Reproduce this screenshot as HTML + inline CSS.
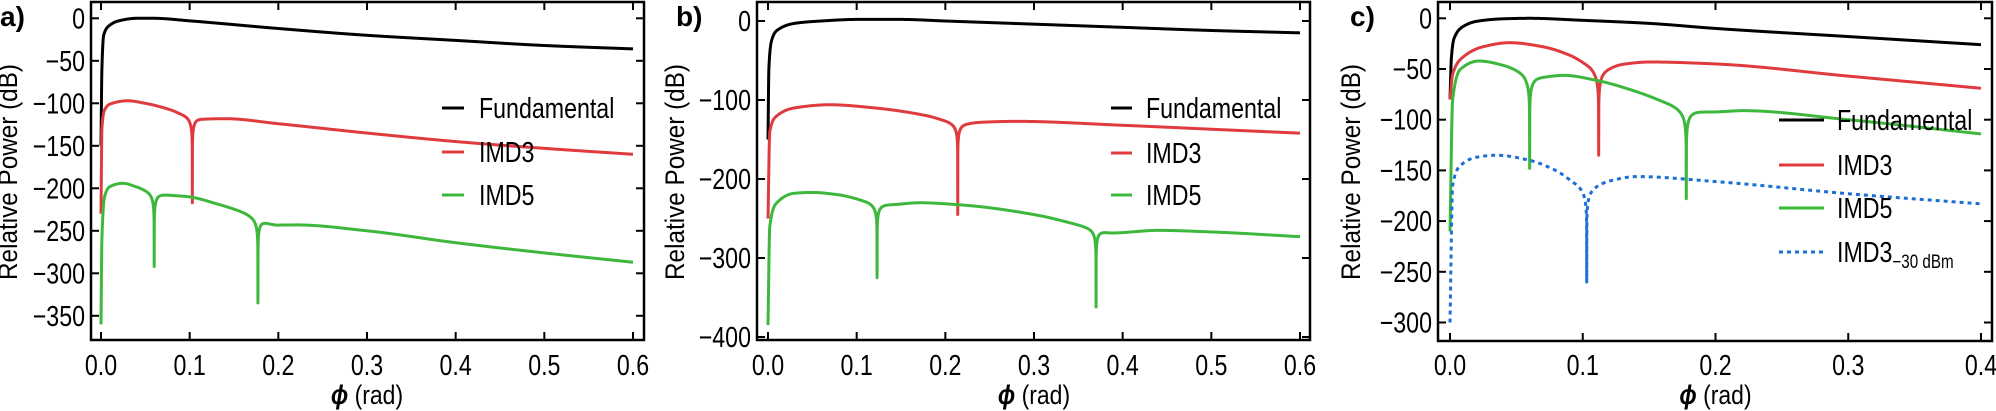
<!DOCTYPE html>
<html><head><meta charset="utf-8"><style>
html,body{margin:0;padding:0;background:#fff;}
svg{display:block;}
text{font-family:"Liberation Sans",sans-serif;}
</style></head><body>
<svg id="s" width="1996" height="411" xmlns="http://www.w3.org/2000/svg"></svg>
<script>
const NS="http://www.w3.org/2000/svg";
const svg=document.getElementById('s');
function el(t,a,txt){const e=document.createElementNS(NS,t);for(const k in a)e.setAttribute(k,a[k]);if(txt!==undefined)e.textContent=txt;svg.appendChild(e);return e;}
function mono(pts){
  const n=pts.length,xs=pts.map(p=>p[0]),ys=pts.map(p=>p[1]);
  const d=[],m=new Array(n);
  for(let i=0;i<n-1;i++)d.push((ys[i+1]-ys[i])/(xs[i+1]-xs[i]));
  m[0]=d[0];m[n-1]=d[n-2];
  for(let i=1;i<n-1;i++){ if(d[i-1]*d[i]<=0)m[i]=0; else{const w1=2*(xs[i+1]-xs[i])+(xs[i]-xs[i-1]),w2=(xs[i+1]-xs[i])+2*(xs[i]-xs[i-1]);m[i]=(w1+w2)/(w1/d[i-1]+w2/d[i]);}}
  return function(x){
    if(x<=xs[0])return ys[0]; if(x>=xs[n-1])return ys[n-1];
    let i=0;while(x>xs[i+1])i++;
    const h=xs[i+1]-xs[i],t=(x-xs[i])/h,t2=t*t,t3=t2*t;
    return (2*t3-3*t2+1)*ys[i]+(t3-2*t2+t)*h*m[i]+(-2*t3+3*t2)*ys[i+1]+(t3-t2)*h*m[i+1];
  };
}
function curve(P,pts,notches,xmax){
  const f=mono(pts);
  const xs=[];const N=3000;
  for(let i=0;i<=N;i++)xs.push(xmax*i/N);
  for(let i=1;i<80;i++)xs.push(0.004*i/80);
  notches.forEach(n=>{xs.push(n[0]);for(let k=1;k<40;k++){xs.push(n[0]-0.004*k/40);xs.push(n[0]+0.004*k/40);}});
  xs.sort((a,b)=>a-b);
  let d="";
  xs.forEach(x=>{
    if(x<0||x>xmax)return;
    let y=f(x);
    notches.forEach(n=>{const dx=x-n[0];const w=0.006;
      if(Math.abs(dx)<1e-9){y=n[1];}
      else{y+=20*Math.log10(Math.abs(dx)/Math.sqrt(dx*dx+w*w));}
      if(Math.abs(dx)<0.02)y=Math.max(y,n[1]);});
    d+=(d?"L":"M")+P.px(x).toFixed(2)+","+P.py(y).toFixed(2);
  });
  return d;
}
function sx(X,s){return `translate(${X},0) scale(${s},1) translate(${-X},0)`;}
function panel(c){
  const P={px:x=>c.x0+(x/c.xmax)*(c.x1-c.x0),py:y=>c.y0+(-y)*c.dbpx};
  c.series.forEach(s=>{
    const a={d:curve(P,s.pts,s.notches,c.xmax),fill:"none",stroke:s.col,"stroke-width":3,"stroke-linejoin":"round"};
    if(s.dash)a["stroke-dasharray"]="4,4";
    el("path",a);
  });
  el("rect",{x:c.fl,y:2,width:c.fr-c.fl,height:c.fb-2,fill:"none",stroke:"#000","stroke-width":2.5});
  c.xt.forEach(v=>{const X=P.px(v);
    el("line",{x1:X,y1:c.fb,x2:X,y2:c.fb-8,stroke:"#000","stroke-width":2});
    el("line",{x1:X,y1:2,x2:X,y2:10,stroke:"#000","stroke-width":2});
    el("text",{x:X,y:375,"font-size":29,"text-anchor":"middle",transform:sx(X,0.8)},v.toFixed(1));
  });
  c.yt.forEach(v=>{const Y=P.py(v);
    el("line",{x1:c.fl,y1:Y,x2:c.fl+8,y2:Y,stroke:"#000","stroke-width":2});
    el("line",{x1:c.fr,y1:Y,x2:c.fr-8,y2:Y,stroke:"#000","stroke-width":2});
    const lab=v===0?"0":"\u2212"+(-v);
    const X=c.fl-6;
    el("text",{x:X,y:Y+10,"font-size":29,"text-anchor":"end",transform:sx(X,0.8)},lab);
  });
  const cx=(c.x0+c.x1)/2;
  const t=el("text",{x:cx,y:404,"font-size":27,"text-anchor":"middle",transform:sx(cx,0.85)});
  const ph=document.createElementNS(NS,"tspan");ph.setAttribute("font-weight","bold");ph.setAttribute("font-style","italic");ph.textContent="\u03d5";t.appendChild(ph);
  const r=document.createElementNS(NS,"tspan");r.textContent=" (rad)";t.appendChild(r);
  el("text",{x:0,y:0,"font-size":27,"text-anchor":"middle",transform:`translate(${c.ylx},172) rotate(-90) scale(0.9,1)`},"Relative Power (dB)");
  el("text",{x:c.plx,y:26,"font-size":28,"font-weight":"bold"},c.pl);
  c.leg.forEach(l=>{
    const a={x1:c.lx1,y1:l.y,x2:c.lx2,y2:l.y,stroke:l.col,"stroke-width":3};
    if(l.dash)a["stroke-dasharray"]="4,4";
    el("line",a);
    const tt=el("text",{x:c.tx,y:l.y+10,"font-size":29,transform:sx(c.tx,0.8)},l.t);
    if(l.sub){const s=document.createElementNS(NS,"tspan");s.setAttribute("font-size","19");s.setAttribute("dy","6");s.textContent=l.sub;tt.appendChild(s);}
  });
}
const K="#000",R="#df3b3e",G="#3db83d",B="#1a6fd6";
panel({x0:101,x1:633,xmax:0.6,y0:18.3,dbpx:0.85,fl:91,fr:644,fb:340,
  xt:[0,0.1,0.2,0.3,0.4,0.5,0.6],yt:[0,-50,-100,-150,-200,-250,-300,-350],ylx:17,plx:0,pl:"a)",
  lx1:442,lx2:464,tx:479,
  leg:[{y:108,col:K,t:"Fundamental"},{y:152,col:R,t:"IMD3"},{y:195,col:G,t:"IMD5"}],
  series:[
   {col:K,notches:[],pts:[[0,-150],[0.001,-60],[0.003,-20],[0.01,-8],[0.02,-3],[0.04,0],[0.06,0],[0.1,-3],[0.2,-12],[0.3,-20],[0.4,-26],[0.5,-32],[0.6,-36]]},
   {col:R,notches:[[0.103,-217]],pts:[[0,-230],[0.001,-130],[0.004,-108],[0.01,-101],[0.03,-97],[0.05,-100],[0.08,-108],[0.09,-112],[0.103,-116],[0.12,-118],[0.14,-118],[0.2,-124],[0.3,-135],[0.4,-145],[0.5,-153],[0.6,-160]]},
   {col:G,notches:[[0.06,-292],[0.177,-335]],pts:[[0,-360],[0.001,-260],[0.004,-210],[0.01,-198],[0.025,-194],[0.04,-198],[0.06,-205],[0.08,-208],[0.1,-210],[0.13,-218],[0.16,-228],[0.177,-236],[0.2,-243],[0.22,-243],[0.3,-250],[0.4,-264],[0.5,-276],[0.6,-287]]}
  ]});
panel({x0:768,x1:1300,xmax:0.6,y0:21,dbpx:0.79,fl:757,fr:1310,fb:340,
  xt:[0,0.1,0.2,0.3,0.4,0.5,0.6],yt:[0,-100,-200,-300,-400],ylx:684,plx:676,pl:"b)",
  lx1:1111,lx2:1132,tx:1146,
  leg:[{y:108,col:K,t:"Fundamental"},{y:153,col:R,t:"IMD3"},{y:195,col:G,t:"IMD5"}],
  series:[
   {col:K,notches:[],pts:[[0,-150],[0.001,-60],[0.004,-25],[0.01,-12],[0.03,-3],[0.06,0],[0.1,2],[0.15,2],[0.2,0],[0.3,-4],[0.4,-8],[0.5,-12],[0.6,-15]]},
   {col:R,notches:[[0.214,-245]],pts:[[0,-250],[0.002,-140],[0.01,-120],[0.03,-110],[0.07,-106],[0.12,-110],[0.18,-120],[0.2,-126],[0.214,-130],[0.24,-128],[0.28,-127],[0.4,-132],[0.5,-137],[0.6,-142]]},
   {col:G,notches:[[0.123,-325],[0.37,-362]],pts:[[0,-385],[0.002,-260],[0.01,-230],[0.03,-218],[0.05,-217],[0.08,-220],[0.11,-228],[0.123,-232],[0.14,-232],[0.17,-230],[0.22,-233],[0.3,-245],[0.35,-258],[0.37,-264],[0.39,-268],[0.44,-265],[0.5,-267],[0.6,-273]]}
  ]});
panel({x0:1450,x1:1981,xmax:0.4,y0:18.3,dbpx:1.014,fl:1438,fr:1992,fb:341,
  xt:[0,0.1,0.2,0.3,0.4],yt:[0,-50,-100,-150,-200,-250,-300],ylx:1360,plx:1350,pl:"c)",
  lx1:1779,lx2:1824,tx:1837,
  leg:[{y:120,col:K,t:"Fundamental"},{y:165,col:R,t:"IMD3"},{y:208,col:G,t:"IMD5"},{y:252,col:B,t:"IMD3",sub:"\u221230 dBm",dash:true}],
  series:[
   {col:K,notches:[],pts:[[0,-80],[0.001,-40],[0.003,-20],[0.01,-8],[0.02,-3],[0.04,-0.5],[0.06,0],[0.1,-2],[0.15,-5],[0.2,-10],[0.3,-18],[0.4,-26]]},
   {col:R,notches:[[0.112,-135]],pts:[[0,-80],[0.002,-55],[0.01,-38],[0.025,-28],[0.045,-24],[0.07,-28],[0.09,-36],[0.105,-46],[0.112,-50],[0.13,-45],[0.15,-43],[0.2,-45],[0.3,-57],[0.4,-69]]},
   {col:G,notches:[[0.06,-148],[0.178,-178]],pts:[[0,-210],[0.002,-80],[0.008,-50],[0.022,-42],[0.04,-46],[0.055,-53],[0.06,-56],[0.07,-57],[0.085,-56],[0.11,-61],[0.14,-72],[0.165,-84],[0.178,-90],[0.2,-92],[0.22,-91],[0.3,-100],[0.4,-114]]},
   {col:B,dash:true,notches:[[0.103,-260]],pts:[[0,-300],[0.002,-165],[0.008,-145],[0.02,-137],[0.035,-135],[0.06,-140],[0.08,-150],[0.095,-162],[0.103,-166],[0.12,-160],[0.14,-156],[0.2,-161],[0.3,-173],[0.4,-183]]}
  ]});
</script>
</body></html>
